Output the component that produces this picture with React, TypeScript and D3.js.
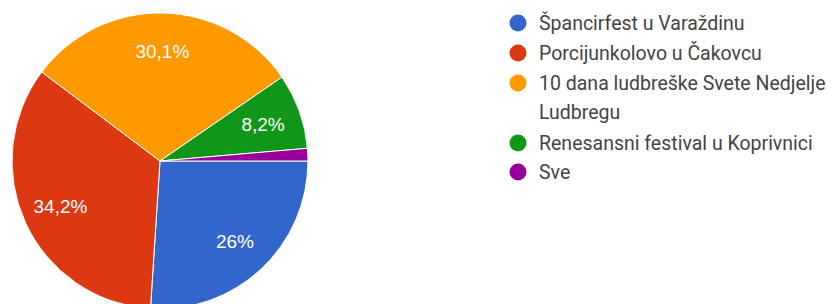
import { useEffect, useRef } from "react";
import * as d3 from "d3";

const categories = [
  "Špancirfest u Varaždinu",
  "Porcijunkolovo u Čakovcu",
  "10 dana ludbreške Svete Nedjelje",
  "Renesansni festival u Koprivnici",
  "Sve",
];
// wrapped legend lines (second line only where the label wraps)
const legendSecondLine = ["", "", "Ludbregu", "", ""];
const responses = [19, 25, 22, 6, 1];
const sliceLabels = ["26%", "34,2%", "30,1%", "8,2%", ""];
const colors = ["#3366cc", "#dc3912", "#ff9900", "#109618", "#990099"];

const App = () => {
  const svgRef = useRef<SVGSVGElement | null>(null);

  useEffect(() => {
    const svg = d3.select(svgRef.current);
    svg.selectAll("*").remove();

    const width = 839;
    const height = 304;
    const cx = 160;
    const cy = 161;
    const radius = 148;

    svg.attr("width", width).attr("height", height);

    const idx = d3.range(categories.length);
    const pie = d3
      .pie<number>()
      .sort(null)
      .value((i) => responses[i])
      .startAngle(Math.PI / 2)
      .endAngle(Math.PI / 2 + 2 * Math.PI);
    const arcs = pie(idx);

    const arc = d3.arc<d3.PieArcDatum<number>>().innerRadius(0).outerRadius(radius);
    const labelArc = d3
      .arc<d3.PieArcDatum<number>>()
      .innerRadius(radius * 0.74)
      .outerRadius(radius * 0.74);

    const g = svg.append("g").attr("transform", `translate(${cx},${cy})`);

    g.selectAll("path")
      .data(arcs)
      .enter()
      .append("path")
      .attr("d", arc)
      .attr("fill", (d) => colors[d.data])
      .attr("stroke", "#ffffff")
      .attr("stroke-width", 1);

    g.selectAll("text.lbl")
      .data(arcs)
      .enter()
      .append("text")
      .attr("class", "lbl")
      .attr("transform", (d) => `translate(${labelArc.centroid(d)})`)
      .attr("text-anchor", "middle")
      .attr("dy", "0.35em")
      .attr("font-family", "'Liberation Sans', Arial, sans-serif")
      .attr("font-size", 19)
      .attr("fill", "#ffffff")
      .text((d) => sliceLabels[d.data]);

    // legend
    const legendX = 518;
    const rowY = d3.scaleOrdinal<number, number>().domain(idx).range([23, 53, 83, 143, 172]);
    const legend = svg.append("g");
    idx.forEach((i) => {
      const y = rowY(i);
      legend
        .append("circle")
        .attr("cx", legendX)
        .attr("cy", y)
        .attr("r", 8.5)
        .attr("fill", colors[i]);
      legend
        .append("text")
        .attr("x", legendX + 21)
        .attr("y", y)
        .attr("dy", "0.35em")
        .attr("font-family", "Roboto, sans-serif")
        .attr("font-size", 19.5)
        .attr("fill", "#444444")
        .text(categories[i]);
      if (legendSecondLine[i]) {
        legend
          .append("text")
          .attr("x", legendX + 21)
          .attr("y", y + 29)
          .attr("dy", "0.35em")
          .attr("font-family", "Roboto, sans-serif")
          .attr("font-size", 19.5)
          .attr("fill", "#444444")
          .text(legendSecondLine[i]);
      }
    });
  }, []);

  return (
    <svg
      ref={svgRef}
      style={{ position: "absolute", left: 0, top: 0, background: "#ffffff" }}
    ></svg>
  );
};

export default App;
